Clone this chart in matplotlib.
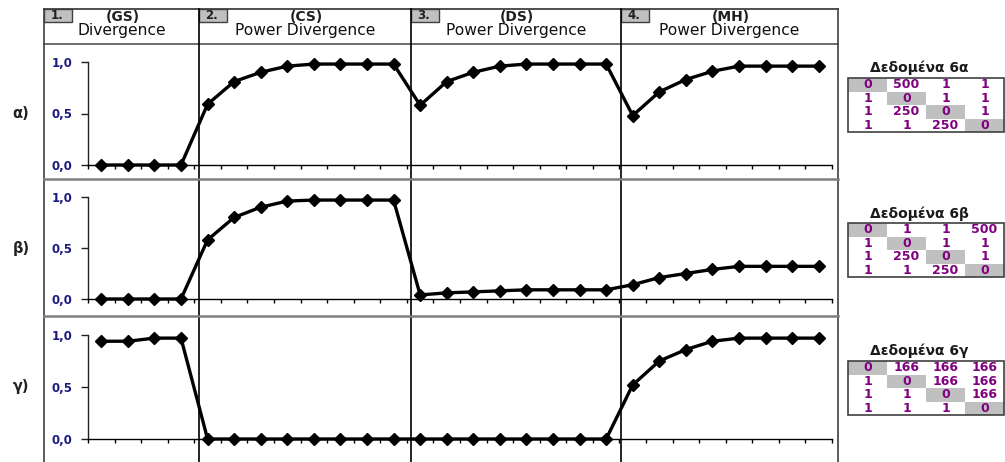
import matplotlib
matplotlib.use("Agg")
import matplotlib.pyplot as plt
from matplotlib.patches import Rectangle

plt.rcParams['font.family'] = ['DejaVu Sans', 'Liberation Sans']

# ---- data ---------------------------------------------------------------
group_numbers = ["1.", "2.", "3.", "4."]
group_codes = ["(GS)", "(CS)", "(DS)", "(MH)"]
group_names = ["Divergence", "Power Divergence", "Power Divergence", "Power Divergence"]
group_sizes = [4, 8, 8, 8]

row_labels = ["α)", "β)", "γ)"]

series_a = [0.00, 0.00, 0.00, 0.00,
            0.59, 0.81, 0.90, 0.96, 0.98, 0.98, 0.98, 0.98,
            0.58, 0.81, 0.90, 0.96, 0.98, 0.98, 0.98, 0.98,
            0.48, 0.71, 0.83, 0.91, 0.96, 0.96, 0.96, 0.96]
series_b = [0.00, 0.00, 0.00, 0.00,
            0.58, 0.80, 0.90, 0.96, 0.97, 0.97, 0.97, 0.97,
            0.04, 0.06, 0.07, 0.08, 0.09, 0.09, 0.09, 0.09,
            0.14, 0.21, 0.25, 0.29, 0.32, 0.32, 0.32, 0.32]
series_c = [0.94, 0.94, 0.97, 0.97,
            0.00, 0.00, 0.00, 0.00, 0.00, 0.00, 0.00, 0.00,
            0.00, 0.00, 0.00, 0.00, 0.00, 0.00, 0.00, 0.00,
            0.52, 0.75, 0.86, 0.94, 0.97, 0.97, 0.97, 0.97]
all_series = [series_a, series_b, series_c]

y_ticks = [0.0, 0.5, 1.0]
y_tick_labels = ["0,0", "0,5", "1,0"]

table_titles = ["Δεδομένα 6α", "Δεδομένα 6β", "Δεδομένα 6γ"]
table_6a = [[0, 500, 1, 1], [1, 0, 1, 1], [1, 250, 0, 1], [1, 1, 250, 0]]
table_6b = [[0, 1, 1, 500], [1, 0, 1, 1], [1, 250, 0, 1], [1, 1, 250, 0]]
table_6c = [[0, 166, 166, 166], [1, 0, 166, 166], [1, 1, 0, 166], [1, 1, 1, 0]]
all_tables = [table_6a, table_6b, table_6c]

# ---- figure & layout ----------------------------------------------------
W, H = 1005, 462
fig = plt.figure(figsize=(W / 100, H / 100), dpi=100)

# overlay in pixel coordinates (origin top-left) for the frame and tables
ov = fig.add_axes([0, 0, 1, 1], zorder=0)
ov.set_xlim(0, W)
ov.set_ylim(H, 0)
ov.axis("off")

col_edges = [44, 199, 411, 621, 838]
frame_top, header_bottom = 9, 44
row_seps = [179, 316]
frame_col = "#404040"

# outer frame and column borders
ov.plot([col_edges[0], col_edges[-1]], [frame_top, frame_top], color=frame_col, lw=1.3)
ov.plot([col_edges[0], col_edges[-1]], [header_bottom, header_bottom], color="#606060", lw=1.3)
for x in col_edges:
    c = frame_col if x in (col_edges[0], col_edges[-1]) else "black"
    ov.plot([x, x], [frame_top, H], color=c, lw=1.2)
for y in row_seps:
    ov.plot([col_edges[0], col_edges[-1]], [y, y], color="#808080", lw=1.8)

# header cells
for i in range(4):
    x0, x1 = col_edges[i], col_edges[i + 1]
    ov.add_patch(Rectangle((x0, frame_top), 28, 13, facecolor="#c0c0c0",
                           edgecolor=frame_col, lw=1.0))
    ov.text(x0 + 13, frame_top + 6.8, group_numbers[i], ha="center", va="center",
            fontsize=8.5, fontweight="bold", color="#202020")
    xc = (x0 + x1) / 2
    ov.text(xc + 1, 17, group_codes[i], ha="center", va="center", fontsize=10,
            fontweight="bold", color="#202020")
    ov.text(xc, 30.5, group_names[i], ha="center", va="center", fontsize=11.2,
            color="#101010")

# ---- line charts --------------------------------------------------------
ax_x0, ax_x1 = 88, 832
row_axes_px = [(62, 165), (197, 299), (335, 439)]
n_points = sum(group_sizes)
xs = [i + 0.5 for i in range(n_points)]

for r, (top, bot) in enumerate(row_axes_px):
    ax = fig.add_axes([ax_x0 / W, 1 - bot / H, (ax_x1 - ax_x0) / W, (bot - top) / H],
                      zorder=2)
    ax.patch.set_alpha(0)
    ax.plot(xs, all_series[r], color="black", lw=2.4, marker="D", markersize=6,
            markerfacecolor="black", markeredgecolor="black", clip_on=False,
            solid_joinstyle="miter")
    ax.set_xlim(0, n_points)
    ax.set_ylim(0, 1)
    for s in ("top", "right"):
        ax.spines[s].set_visible(False)
    ax.spines["left"].set_color("#202020")
    ax.spines["bottom"].set_color("black")
    ax.spines["left"].set_linewidth(1.0)
    ax.spines["bottom"].set_linewidth(1.0)
    ax.set_xticks(range(n_points + 1))
    ax.set_xticklabels([])
    ax.tick_params(axis="x", direction="out", length=3, width=1.0, color="black")
    ax.set_yticks(y_ticks)
    ax.set_yticklabels(y_tick_labels, fontsize=8.5, fontweight="bold", color="#1a1a80")
    ax.tick_params(axis="y", direction="out", length=5, width=1.0, color="#202020", pad=6)
    ov.text(21, (top + bot) / 2, row_labels[r], ha="center", va="center",
            fontsize=10.5, fontweight="bold", color="#202020")

# ---- data tables on the right --------------------------------------------
table_boxes = [(68, 78), (214, 223), (351, 361)]
tx0, cell_w, cell_h = 848, 39, 13.5
for t, (title_y, top) in enumerate(table_boxes):
    ov.text(919, title_y, table_titles[t], ha="center", va="center",
            fontsize=10, fontweight="bold", color="#1a1a1a")
    tbl = all_tables[t]
    for i, row in enumerate(tbl):
        for j, val in enumerate(row):
            if i == j:
                ov.add_patch(Rectangle((tx0 + j * cell_w, top + i * cell_h), cell_w,
                                       cell_h, facecolor="#c0c0c0", edgecolor="none"))
            ov.text(tx0 + (j + 0.5) * cell_w, top + (i + 0.5) * cell_h, str(val),
                    ha="center", va="center", fontsize=9, fontweight="bold",
                    color="#800080")
    ov.add_patch(Rectangle((tx0, top), 4 * cell_w, 4 * cell_h, facecolor="none",
                           edgecolor="#404040", lw=1.2))

fig.savefig("out.png", dpi=100)
